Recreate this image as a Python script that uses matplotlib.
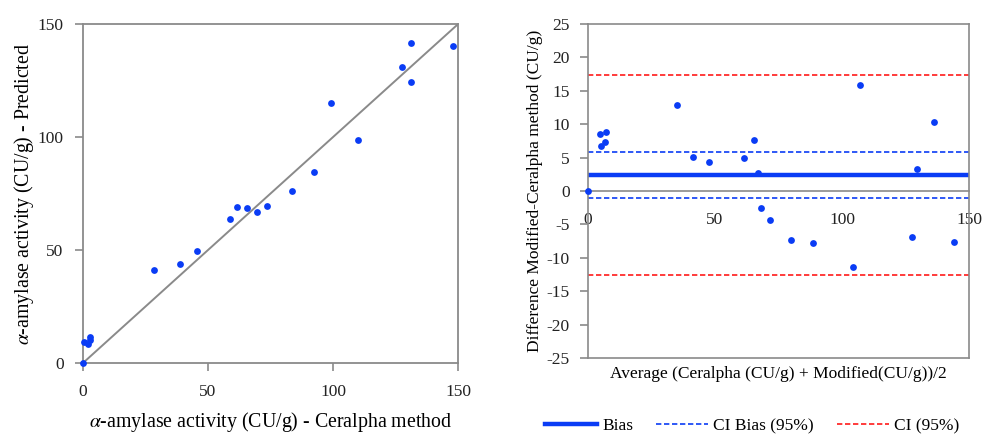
import matplotlib
matplotlib.use('Agg')
import matplotlib.pyplot as plt
import numpy as np
from matplotlib.lines import Line2D

plt.rcParams['font.family'] = ['Liberation Serif', 'DejaVu Serif']
plt.rcParams['mathtext.fontset'] = 'stix'
plt.rcParams['font.size'] = 12.5
plt.rcParams['axes.unicode_minus'] = False

# alpha-amylase activity (CU/g)
ceralpha = [0.0, 0.6, 1.9, 2.9, 2.65, 28.5, 38.65, 45.45, 58.9, 61.4, 65.75,
            69.5, 73.7, 83.55, 92.3, 109.95, 99.1, 131.05, 127.75, 131.2, 147.8]
modified = [0.0, 9.1, 8.6, 10.2, 11.5, 41.3, 43.75, 49.75, 63.9, 69.0, 68.45,
            66.9, 69.3, 76.2, 84.5, 98.6, 114.9, 124.15, 131.05, 141.6, 140.2]

bias = 2.4
ci_bias = [5.9, -1.1]
ci = [17.4, -12.6]

identity = [0, 150]
xy_ticks = [0, 50, 100, 150]
diff_ticks = list(range(-25, 30, 5))

BLUE = '#0a3cf5'
GRAY = '#8a8a8a'
RED = '#ff1a1a'

ceralpha = np.array(ceralpha)
modified = np.array(modified)
average = (ceralpha + modified) / 2
difference = modified - ceralpha

fig = plt.figure(figsize=(9.82, 4.34), dpi=100)

# --- left: predicted vs ceralpha
ax1 = fig.add_axes([0.0845, 0.1636, 0.382, 0.781])
ax1.plot(identity, identity, color=GRAY, lw=1.4, zorder=2)
ax1.scatter(ceralpha, modified, s=24, color=BLUE, zorder=3, clip_on=False, linewidths=0)
ax1.set_xlim(0, 150)
ax1.set_ylim(0, 150)
ax1.set_xticks(xy_ticks)
ax1.set_yticks(xy_ticks)
for sp in ax1.spines.values():
    sp.set_color(GRAY)
    sp.set_linewidth(1.3)
ax1.tick_params(colors=GRAY, labelcolor='#222222', length=6, width=1.2)
ax1.tick_params(axis='x', pad=9)
ax1.tick_params(axis='y', pad=8)
ax1.set_xlabel(r'$\alpha$-amylase activity (CU/g) - Ceralpha method', fontsize=14.3, labelpad=7)
ax1.set_ylabel(r'$\alpha$-amylase activity (CU/g) - Predicted', fontsize=14.3, labelpad=1)

# --- right: Bland-Altman
ax2 = fig.add_axes([0.5988, 0.1751, 0.388, 0.7696])
ax2.axhline(bias, color=BLUE, lw=3.2, zorder=2)
for v in ci_bias:
    ax2.axhline(v, color=BLUE, lw=1.2, dashes=(3.2, 1.6), zorder=2)
for v in ci:
    ax2.axhline(v, color=RED, lw=1.2, dashes=(3.2, 1.6), zorder=2)
ax2.scatter(average, difference, s=24, color=BLUE, zorder=3, clip_on=False, linewidths=0)
ax2.set_xlim(0, 150)
ax2.set_ylim(-25, 25)
ax2.set_xticks(xy_ticks)
ax2.set_yticks(diff_ticks)
ax2.spines['bottom'].set_position(('data', 0))
for sp in ax2.spines.values():
    sp.set_color(GRAY)
    sp.set_linewidth(1.2)
ax2.plot([0, 1], [0, 0], transform=ax2.transAxes, color=GRAY, lw=1.2, clip_on=False)
ax2.tick_params(axis='y', colors=GRAY, labelcolor='#222222', length=6, width=1.2, pad=7)
ax2.tick_params(axis='x', colors=GRAY, labelcolor='#222222', length=0, pad=15)
ax2.set_xlabel('Average (Ceralpha (CU/g) + Modified(CU/g))/2')
ax2.xaxis.set_label_coords(0.5, -0.025)
ax2.set_ylabel('Difference Modified-Ceralpha method (CU/g)', labelpad=3)

handles = [
    Line2D([], [], color=BLUE, lw=3.2),
    Line2D([], [], color=BLUE, lw=1.2, dashes=(3.2, 1.6)),
    Line2D([], [], color=RED, lw=1.2, dashes=(3.2, 1.6)),
]
fig.legend(handles, ['Bias', 'CI Bias (95%)', 'CI (95%)'], loc='center',
           bbox_to_anchor=(0.766, 0.018), ncol=3, frameon=False,
           handlelength=3.0, handletextpad=0.3, columnspacing=1.3)

fig.savefig('out.png', dpi=100)
